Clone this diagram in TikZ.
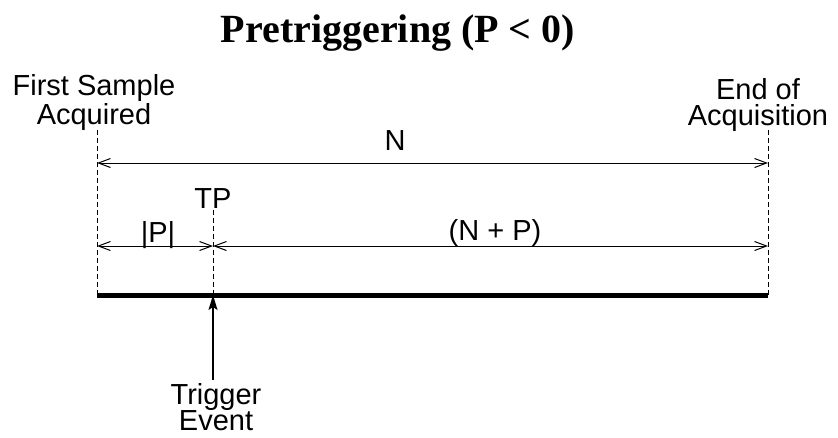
\documentclass[tikz,border=0pt]{standalone}
\usepackage{fontspec}
\setmainfont{Liberation Sans}
\newfontfamily\titlefont{Liberation Serif}
\usetikzlibrary{arrows.meta}

\begin{document}
\begin{tikzpicture}[x=1pt,y=-1pt,
  lbl/.style={font=\fontsize{29}{26}\selectfont, inner sep=0pt, anchor=base, align=center},
  dimline/.style={line width=1pt, {Straight Barb[length=12pt,width=9pt]}-{Straight Barb[length=12pt,width=9pt]}},
  guide/.style={line width=1pt, dash pattern=on 5pt off 3pt}]
\useasboundingbox (0,0) rectangle (838,437);

\node[font=\titlefont\bfseries\fontsize{40}{40}\selectfont, inner sep=0pt, anchor=base] (title) at (398,42) {Pretriggering (P < 0)};

\node[lbl] (firstlbl) at (94,124) {First Sample\\Acquired};
\node[lbl] (endlbl) at (758,125) {End of\\Acquisition};

\coordinate (s0) at (97,130);
\coordinate (s1) at (97,295);
\coordinate (e0) at (768,130);
\coordinate (e1) at (768,295);
\coordinate (t0) at (213,210);
\coordinate (t1) at (213,295);

\draw[guide] (s0) -- (s1);
\draw[guide] (e0) -- (e1);
\draw[guide] (t0) -- (t1);

\coordinate (na) at (97,163);
\coordinate (nb) at (768,163);
\draw[dimline] (na) -- (nb);
\node[lbl] (nlbl) at (395,150) {N};

\node[lbl] (tplbl) at (213,208) {TP};

\coordinate (pa) at (97,246);
\coordinate (pb) at (213,246);
\coordinate (pc) at (768,246);
\draw[dimline] (pa) -- (pb);
\draw[dimline] (pb) -- (pc);
\node[lbl] (plbl) at (158,242) {|P|};
\node[lbl] (nplbl) at (495,240) {(N + P)};

\draw[line width=5pt] (s1) -- (e1);

\coordinate (tg) at (213,380);
\draw[line width=1.5pt, -{Stealth[length=15pt,width=9pt,inset=3pt]}] (tg) -- (t1);
\node[lbl] (triglbl) at (216,430) {Trigger\\Event};
\end{tikzpicture}
\end{document}
